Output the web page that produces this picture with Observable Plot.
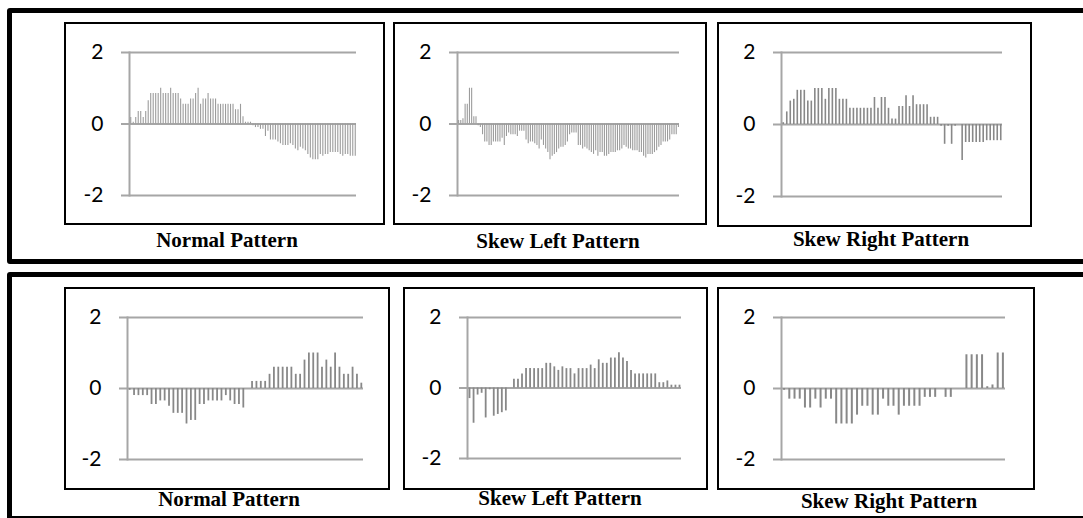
<!DOCTYPE html>
<html><head><meta charset="utf-8">
<script src="https://cdn.jsdelivr.net/npm/d3@7"></script>
<script src="https://cdn.jsdelivr.net/npm/@observablehq/plot@0.6"></script>
<style>
html,body{margin:0;padding:0;background:#fff;}
body{width:1083px;height:518px;overflow:hidden;position:relative;}
.outer{position:absolute;border:5px solid #000;border-radius:3px;box-sizing:border-box;}
.box{position:absolute;border:2px solid #000;box-sizing:border-box;pointer-events:none;}
.plot{position:absolute;}
.title{position:absolute;width:300px;text-align:center;font-family:"Liberation Serif","Times New Roman",serif;font-weight:bold;font-size:21px;line-height:21px;white-space:nowrap;color:#000;}
</style></head><body>
<script>
// ---- data ----
const yTicks = [-2, 0, 2];
const titleNormal = "Normal Pattern";
const titleSkewLeft = "Skew Left Pattern";
const titleSkewRight = "Skew Right Pattern";

const normalTop = [0.18,0.05,0.18,0.35,0.35,0.18,0.35,0.65,0.85,0.85,
  0.85,0.85,1.0,0.85,0.85,0.85,1.0,0.85,0.85,0.85,
  0.7,0.55,0.55,0.55,0.7,0.7,0.85,1.0,0.55,0.7,
  0.7,0.85,0.7,0.7,0.7,0.55,0.55,0.55,0.55,0.55,
  0.55,0.55,0.4,0.4,0.55,0.2,0.05,0.05,0.05,-0.05,
  -0.1,-0.1,-0.15,-0.15,-0.35,-0.2,-0.45,-0.45,-0.45,-0.5,
  -0.55,-0.6,-0.6,-0.6,-0.55,-0.6,-0.7,-0.75,-0.65,-0.7,
  -0.75,-0.85,-0.95,-1.0,-1.0,-1.0,-0.85,-0.9,-0.85,-0.85,
  -0.8,-0.8,-0.8,-0.8,-0.85,-0.9,-0.85,-0.85,-0.9,-0.9,-0.9];

const skewLeftTop = [0.1,0.1,0.15,0.55,0.55,1.0,1.0,0.2,0.2,-0.05,
  -0.1,-0.3,-0.5,-0.5,-0.6,-0.6,-0.5,-0.5,-0.5,-0.5,
  -0.4,-0.6,-0.35,-0.25,-0.3,-0.3,-0.3,-0.35,-0.2,-0.2,
  -0.2,-0.45,-0.55,-0.5,-0.5,-0.55,-0.6,-0.7,-0.45,-0.6,
  -0.7,-0.8,-1.0,-0.9,-0.85,-0.8,-0.7,-0.65,-0.65,-0.6,
  -0.5,-0.3,-0.25,-0.25,-0.25,-0.6,-0.6,-0.7,-0.65,-0.7,
  -0.75,-0.8,-0.85,-0.75,-0.9,-0.8,-0.8,-0.9,-0.9,-0.85,
  -0.8,-0.8,-0.8,-0.75,-0.75,-0.7,-0.6,-0.65,-0.7,-0.7,
  -0.75,-0.75,-0.75,-0.8,-0.8,-0.9,-0.95,-0.85,-0.85,-0.85,
  -0.8,-0.75,-0.65,-0.6,-0.5,-0.5,-0.5,-0.45,-0.3,-0.3,
  -0.3,-0.1];

const skewRightTop = [0.05,0.35,0.65,0.7,0.95,0.95,0.95,0.65,0.65,1.0,
  1.0,1.0,0.7,1.0,1.0,1.0,0.7,0.7,0.7,0.45,
  0.45,0.45,0.45,0.45,0.45,0.45,0.75,0.45,0.75,0.75,
  0.45,0.15,0.15,0.5,0.5,0.8,0.5,0.8,0.55,0.55,
  0.55,0.55,0.2,0.2,0.2,-0.05,-0.55,-0.05,-0.55,-0.05,
  0,-1.0,-0.5,-0.5,-0.5,-0.5,-0.5,-0.5,-0.45,-0.45,
  -0.45,-0.45,-0.45];

const normalBottom = [-0.05,-0.2,-0.2,-0.2,-0.2,-0.45,-0.45,-0.35,-0.35,-0.5,
  -0.7,-0.7,-0.7,-1.0,-0.9,-0.9,-0.45,-0.45,-0.35,-0.35,
  -0.35,-0.35,-0.2,-0.35,-0.45,-0.45,-0.55,0,0.2,0.2,
  0.2,0.2,0.4,0.6,0.6,0.6,0.6,0.6,0.4,0.4,
  0.8,1.0,1.0,1.0,0.6,0.8,0.6,1.0,0.6,0.4,
  0.4,0.6,0.4,0.15];

const skewLeftBottom = [-0.3,-1.0,-0.2,-0.15,-0.85,-0.05,-0.8,-0.75,-0.7,-0.65,
  0,0.25,0.25,0.4,0.55,0.55,0.55,0.55,0.55,0.7,
  0.7,0.6,0.5,0.6,0.55,0.55,0.4,0.55,0.55,0.55,
  0.65,0.55,0.8,0.7,0.7,0.85,0.85,1.0,0.85,0.75,
  0.5,0.4,0.4,0.4,0.4,0.4,0.4,0.15,0.15,0.2,
  0.08,0.08,0.08];

const skewRightBottom = [-0.05,-0.3,-0.3,-0.3,-0.55,-0.55,-0.3,-0.55,-0.3,-0.3,
  -1.0,-1.0,-1.0,-1.0,-0.75,-0.5,-0.5,-0.75,-0.75,-0.3,
  -0.5,-0.5,-0.75,-0.5,-0.5,-0.5,-0.5,-0.25,-0.25,-0.25,
  0,-0.25,-0.25,0,0,0.95,0.95,0.95,0.95,0.05,
  0.1,1.0,1.0];

// ---- layout ----
const panels = [
  {values: normalTop, title: titleNormal, box:[64,22,321,203], axis:129, gridEnd:356, yTop:52, yBottom:195, titleX:227, titleBase:248, color:"#9c9c9c", sw:1.1},
  {values: skewLeftTop, title: titleSkewLeft, box:[393,22,314,203], axis:457, gridEnd:679, yTop:52, yBottom:195, titleX:558, titleBase:249, color:"#9c9c9c", sw:1.1},
  {values: skewRightTop, title: titleSkewRight, box:[717,22,315,205], axis:781, gridEnd:1002, yTop:52, yBottom:196, titleX:881, titleBase:247, color:"#888888", sw:1.6},
  {values: normalBottom, title: titleNormal, box:[64,287,326,203], axis:127, gridEnd:363, yTop:317, yBottom:459, titleX:229, titleBase:507, color:"#888888", sw:1.8},
  {values: skewLeftBottom, title: titleSkewLeft, box:[403,287,305,203], axis:467, gridEnd:681, yTop:317, yBottom:458, titleX:560, titleBase:506, color:"#888888", sw:1.8},
  {values: skewRightBottom, title: titleSkewRight, box:[717,287,318,203], axis:781, gridEnd:1005, yTop:317, yBottom:459, titleX:889, titleBase:509, color:"#888888", sw:2}
];

function addDiv(cls, l, t, w, h) {
  const d = document.createElement("div");
  d.className = cls;
  d.style.left = l + "px"; d.style.top = t + "px";
  if (w != null) d.style.width = w + "px";
  if (h != null) d.style.height = h + "px";
  document.body.appendChild(d);
  return d;
}

addDiv("outer", 7, 8, 1100, 256);
addDiv("outer", 7, 272, 1100, 249);

for (const p of panels) {
  const [bl, bt, bw, bh] = p.box;
  const n = p.values.length;
  const data = p.values.map((v, i) => ({i, v}));
  const chart = Plot.plot({
    width: bw, height: bh,
    marginLeft: p.axis - bl,
    marginRight: bl + bw - p.gridEnd,
    marginTop: p.yTop - bt,
    marginBottom: bt + bh - p.yBottom,
    x: {domain: [-0.5, n - 0.5], axis: null},
    y: {domain: [-2, 2]},
    style: {background: "transparent", overflow: "visible", fontFamily: "Lato, 'Open Sans', sans-serif"},
    marks: [
      Plot.ruleY(yTicks, {stroke: "#a6a6a6", strokeWidth: 2, insetLeft: -8}),
      Plot.frame({anchor: "left", stroke: "#a6a6a6", strokeWidth: 2}),
      Plot.ruleX(data, {x: "i", y1: 0, y2: "v", stroke: p.color, strokeWidth: p.sw}),
      Plot.axisY({ticks: yTicks, tickSize: 0, tickPadding: 26, tickFormat: d => String(d), fontSize: 21, fill: "#000", label: null})
    ]
  });
  const holder = addDiv("plot", bl, bt, bw, bh);
  holder.appendChild(chart);
  addDiv("box", bl, bt, bw, bh);
  const t = addDiv("title", p.titleX - 150, p.titleBase - 17.6);
  t.textContent = p.title;
}
</script>
</body></html>
